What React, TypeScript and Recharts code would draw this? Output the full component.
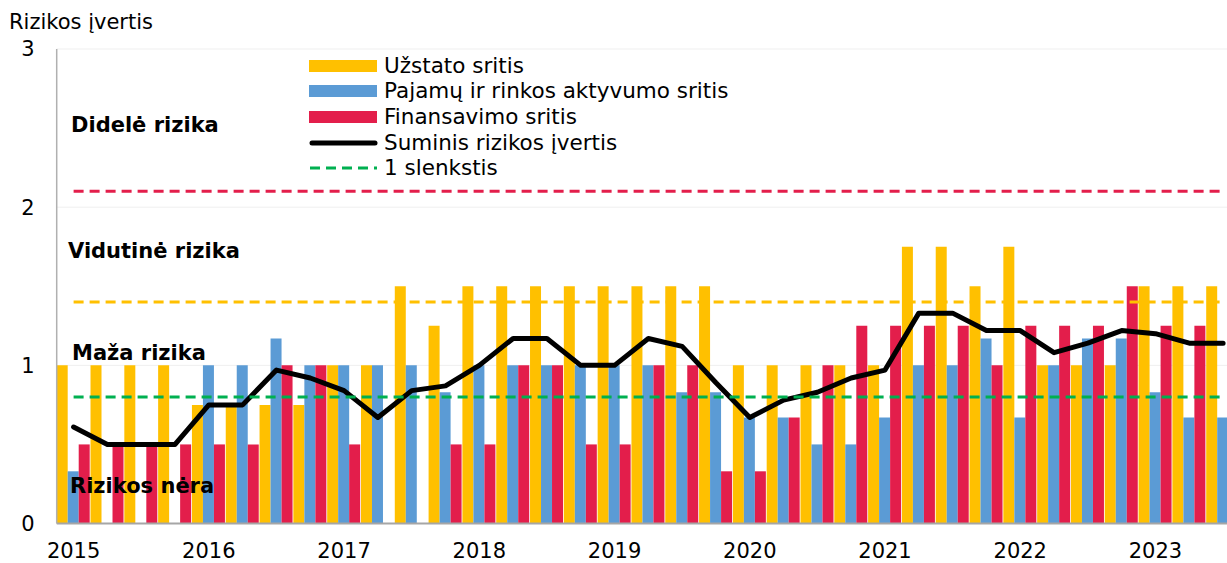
import React from "react"
import { Bar, ComposedChart, Line, XAxis, YAxis, CartesianGrid } from "recharts"

const years = ["2015", "2016", "2017", "2018", "2019", "2020", "2021", "2022", "2023"]
const quarters = years.flatMap((y) => ["I", "II", "III", "IV"].map((q) => `${y} ${q}`)).slice(0, 35)

// Užstato sritis
const collateral = [
  1, 1, 1, 1, 0.75, 0.75, 0.75, 0.75, 1, 1, 1.5, 1.25, 1.5, 1.5, 1.5, 1.5, 1.5, 1.5,
  1.5, 1.5, 1, 1, 1, 1, 1, 1.75, 1.75, 1.5, 1.75, 1, 1, 1, 1.5, 1.5, 1.5,
]
// Pajamų ir rinkos aktyvumo sritis
const income = [
  0.33, 0, 0, 0, 1, 1, 1.17, 1, 1, 1, 1, 0.83, 1, 1, 1, 1, 1, 1, 0.83, 0.83, 0.67,
  0.67, 0.5, 0.5, 0.67, 1, 1, 1.17, 0.67, 1, 1.17, 1.17, 0.83, 0.67, 0.67,
]
// Finansavimo sritis
const funding = [
  0.5, 0.5, 0.5, 0.5, 0.5, 0.5, 1, 1, 0.5, 0, 0, 0.5, 0.5, 1, 1, 0.5, 0.5, 1, 1, 0.33,
  0.33, 0.67, 1, 1.25, 1.25, 1.25, 1.25, 1, 1.25, 1.25, 1.25, 1.5, 1.25, 1.25, 1.25,
]
// Suminis rizikos įvertis
const total = [
  0.61, 0.5, 0.5, 0.5, 0.75, 0.75, 0.97, 0.92, 0.84, 0.67, 0.84, 0.87, 1, 1.17, 1.17,
  1, 1, 1.17, 1.12, 0.89, 0.67, 0.78, 0.83, 0.92, 0.97, 1.33, 1.33, 1.22, 1.22, 1.08,
  1.14, 1.22, 1.2, 1.14, 1.14,
]

const threshold1 = 0.8
const threshold2 = 1.4
const threshold3 = 2.1

const yTicks = [0, 1, 2, 3]

const zoneLabels = [
  { text: "Didelė rizika", left: 71, top: 112 },
  { text: "Vidutinė rizika", left: 68, top: 238 },
  { text: "Maža rizika", left: 72, top: 340 },
  { text: "Rizikos nėra", left: 70, top: 473 },
]

const YELLOW = "#ffc000"
const BLUE = "#5b9bd5"
const RED = "#e31e4b"
const GREEN = "#00b050"

const data = quarters.map((q, i) => ({
  q,
  collateral: collateral[i],
  income: income[i],
  funding: funding[i],
  total: total[i],
}))

const FONT = "'DejaVu Sans', Verdana, sans-serif"

const legendItems = [
  { label: "Užstato sritis", kind: "bar", color: YELLOW },
  { label: "Pajamų ir rinkos aktyvumo sritis", kind: "bar", color: BLUE },
  { label: "Finansavimo sritis", kind: "bar", color: RED },
  { label: "Suminis rizikos įvertis", kind: "line", color: "#000" },
  { label: "1 slenkstis", kind: "dash", color: GREEN },
]

function LegendBox() {
  return (
    <div style={{ position: "absolute", left: 309, top: 53, fontSize: 21.5, color: "#000" }}>
      {legendItems.map((it) => (
        <div key={it.label} style={{ display: "flex", alignItems: "center", height: 25.6 }}>
          <svg width={70} height={14} style={{ marginRight: 5 }}>
            {it.kind === "bar" && <rect x={0} y={1} width={68} height={12} fill={it.color} />}
            {it.kind === "line" && (
              <line x1={3} y1={7} x2={66} y2={7} stroke={it.color} strokeWidth={5} strokeLinecap="round" />
            )}
            {it.kind === "dash" && (
              <line x1={1} y1={7} x2={68} y2={7} stroke={it.color} strokeWidth={3} strokeDasharray="10 6" />
            )}
          </svg>
          <span style={{ lineHeight: "22px" }}>{it.label}</span>
        </div>
      ))}
    </div>
  )
}

export default function App() {
  return (
    <div
      style={{
        position: "fixed",
        left: 0,
        top: 0,
        width: 1227,
        height: 563,
        overflow: "hidden",
        background: "#fff",
        fontFamily: FONT,
      }}
    >
      <ComposedChart
        width={1240}
        height={563}
        data={data}
        margin={{ top: 49, right: 0, bottom: 0, left: 0 }}
        barCategoryGap={0}
        barGap={0}
      >
        <CartesianGrid vertical={false} stroke="#efefef" />
        <XAxis
          dataKey="q"
          interval={0}
          height={39.5}
          tickLine={false}
          tickSize={0}
          tickMargin={20}
          axisLine={{ stroke: "#a6a6a6", strokeWidth: 2 }}
          tick={{ fill: "#000", fontSize: 21, fontFamily: FONT }}
          tickFormatter={(v: string) => (v.endsWith(" I") ? v.slice(0, 4) : "")}
        />
        <YAxis
          domain={[0, 3]}
          ticks={yTicks}
          width={56.7}
          tickLine={false}
          tickSize={0}
          tickMargin={22}
          axisLine={{ stroke: "#b0b0b0", strokeWidth: 1.5 }}
          tick={{ fill: "#000", fontSize: 21, fontFamily: FONT }}
        />
        <Bar dataKey="collateral" fill={YELLOW} isAnimationActive={false} />
        <Bar dataKey="income" fill={BLUE} isAnimationActive={false} />
        <Bar dataKey="funding" fill={RED} isAnimationActive={false} />
        <Line
          dataKey={() => threshold3}
          stroke={RED}
          strokeWidth={3}
          strokeDasharray="10 6"
          dot={false}
          activeDot={false}
          isAnimationActive={false}
        />
        <Line
          dataKey={() => threshold2}
          stroke={YELLOW}
          strokeWidth={3}
          strokeDasharray="10 6"
          dot={false}
          activeDot={false}
          isAnimationActive={false}
        />
        <Line
          dataKey="total"
          stroke="#000"
          strokeWidth={5}
          strokeLinecap="round"
          strokeLinejoin="round"
          dot={false}
          activeDot={false}
          isAnimationActive={false}
        />
        <Line
          dataKey={() => threshold1}
          stroke={GREEN}
          strokeWidth={3}
          strokeDasharray="10 6"
          dot={false}
          activeDot={false}
          isAnimationActive={false}
        />
      </ComposedChart>
      <LegendBox />
      <div style={{ position: "absolute", left: 9, top: 10, fontSize: 21, lineHeight: "24px" }}>
        Rizikos įvertis
      </div>
      {zoneLabels.map((z) => (
        <div
          key={z.text}
          style={{
            position: "absolute",
            left: z.left,
            top: z.top,
            fontSize: 21,
            fontWeight: "bold",
            lineHeight: "26px",
          }}
        >
          {z.text}
        </div>
      ))}
    </div>
  )
}
